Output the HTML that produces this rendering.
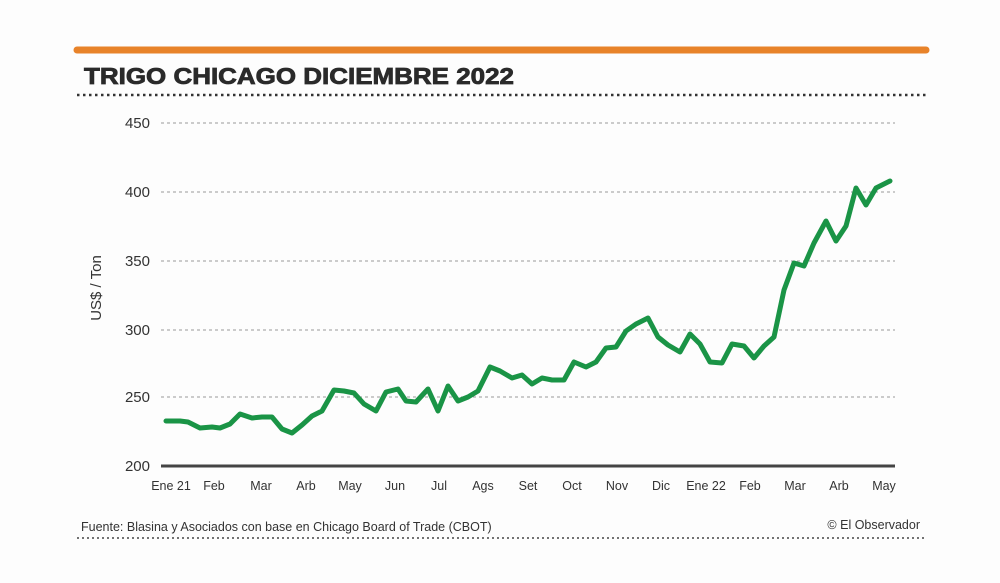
<!DOCTYPE html>
<html><head><meta charset="utf-8"><style>
body{margin:0;background:#fdfdfd;}
svg{display:block}
text{font-family:"Liberation Sans",sans-serif;}
</style></head><body>
<svg width="1000" height="583" viewBox="0 0 1000 583">
<rect width="1000" height="583" fill="#fdfdfd"/>
<line x1="77" y1="50" x2="926" y2="50" stroke="#e8832a" stroke-width="7" stroke-linecap="round"/>
<text x="84" y="84" font-size="23" font-weight="bold" fill="#2a2a2a" stroke="#2a2a2a" stroke-width="0.8" textLength="430" lengthAdjust="spacingAndGlyphs">TRIGO CHICAGO DICIEMBRE 2022</text>
<line x1="77" y1="95" x2="926" y2="95" stroke="#333" stroke-width="2.5" stroke-dasharray="2.5,3.5"/>
<g stroke="#999" stroke-width="1" stroke-dasharray="3,3">
<line x1="161" y1="123" x2="895" y2="123"/>
<line x1="161" y1="192" x2="895" y2="192"/>
<line x1="161" y1="261" x2="895" y2="261"/>
<line x1="161" y1="330" x2="895" y2="330"/>
<line x1="161" y1="397" x2="895" y2="397"/>
</g>
<line x1="161" y1="466" x2="895" y2="466" stroke="#444" stroke-width="3"/>
<g font-size="15" fill="#333" text-anchor="end">
<text x="150" y="128">450</text><text x="150" y="197">400</text><text x="150" y="266">350</text>
<text x="150" y="335">300</text><text x="150" y="402">250</text><text x="150" y="471">200</text>
</g>
<text transform="translate(101,288) rotate(-90)" font-size="15" fill="#333" text-anchor="middle">US$ / Ton</text>
<g font-size="12.5" fill="#333" text-anchor="middle">
<text x="171" y="490">Ene 21</text><text x="214" y="490">Feb</text><text x="261" y="490">Mar</text>
<text x="306" y="490">Arb</text><text x="350" y="490">May</text><text x="395" y="490">Jun</text>
<text x="439" y="490">Jul</text><text x="483" y="490">Ags</text><text x="528" y="490">Set</text>
<text x="572" y="490">Oct</text><text x="617" y="490">Nov</text><text x="661" y="490">Dic</text>
<text x="706" y="490">Ene 22</text><text x="750" y="490">Feb</text><text x="795" y="490">Mar</text>
<text x="839" y="490">Arb</text><text x="884" y="490">May</text>
</g>
<polyline fill="none" stroke="#1a9446" stroke-width="5" stroke-linejoin="round" stroke-linecap="round" points="166,421 180,421 188,422 200,428 212,427 220,428 230,424 240,414 252,418 262,417 272,417 282,429 292,433 302,425 312,416 322,411 334,390 344,391 354,393 364,404 376,411 386,392 398,389 406,401 416,402 428,389 438,411 448,386 458,401 468,397 478,391 490,367 500,371 512,378 522,375 532,384 542,378 552,380 564,380 574,362 586,367 596,362 606,348 616,347 626,331 636,324 648,318 658,337 668,345 680,352 690,334 700,344 710,362 722,363 732,344 744,346 754,358 764,346 774,337 784,290 794,263 804,266 814,243 826,221 836,241 846,226 856,188 866,205 876,188 890,181"/>
<text x="81" y="531" font-size="12.5" fill="#333">Fuente: Blasina y Asociados con base en Chicago Board of Trade (CBOT)</text>
<text x="920" y="529" font-size="12.5" fill="#333" text-anchor="end">© El Observador</text>
<line x1="77" y1="538" x2="926" y2="538" stroke="#444" stroke-width="1.5" stroke-dasharray="2,3"/>
</svg>
</body></html>
